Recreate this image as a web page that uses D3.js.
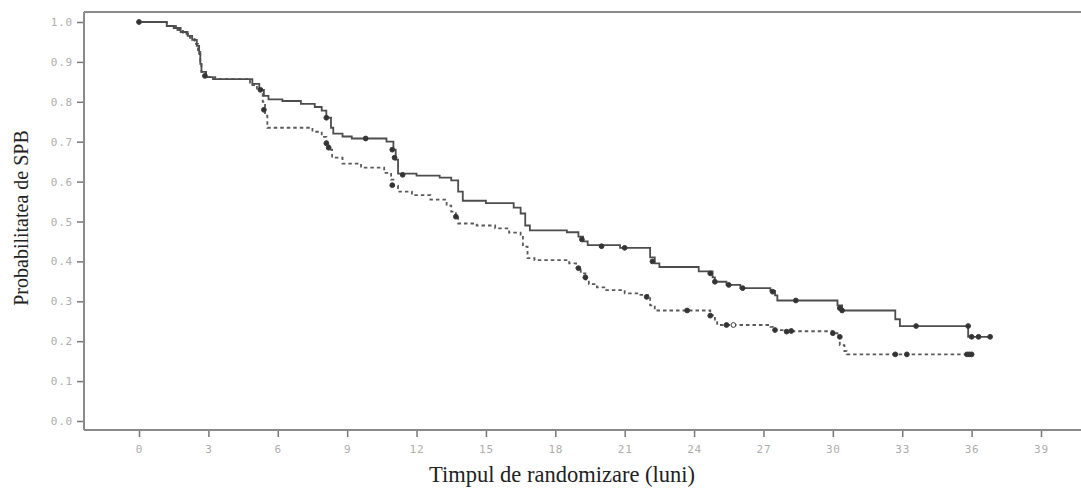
<!DOCTYPE html>
<html><head><meta charset="utf-8">
<script src="https://cdn.jsdelivr.net/npm/d3@7/dist/d3.min.js"></script>
<style>body{margin:0;background:#fff}svg{display:block}</style>
</head><body>
<svg id="c" width="1081" height="490"></svg>
<script>
// ---- data ----
const xTicks = [0,3,6,9,12,15,18,21,24,27,30,33,36,39];
const yTicks = [0.0,0.1,0.2,0.3,0.4,0.5,0.6,0.7,0.8,0.9,1.0];
const xTitle = "Timpul de randomizare (luni)";
const yTitle = "Probabilitatea de SPB";

// solid curve: step times and survival
const solidTime = [0,1.2,1.5,1.8,2.1,2.3,2.5,2.6,2.65,2.7,2.9,3.2,4.9,5.2,5.4,5.6,6.2,7.0,7.6,7.9,8.1,8.3,8.4,8.8,9.2,10.7,11.0,11.1,11.2,12.0,13.0,13.5,13.8,14.0,15.0,16.2,16.5,16.7,16.9,18.5,19.0,19.2,19.4,20.8,22.1,22.3,22.5,24.2,24.8,24.9,25.4,26.0,27.3,27.5,27.6,30.2,30.4,32.7,32.9,35.85,36.8];
const solidSurv = [1.0,0.99,0.985,0.975,0.965,0.955,0.94,0.92,0.895,0.875,0.862,0.857,0.845,0.83,0.815,0.806,0.802,0.795,0.787,0.778,0.76,0.735,0.72,0.713,0.708,0.70,0.68,0.655,0.62,0.615,0.61,0.603,0.575,0.552,0.546,0.535,0.52,0.49,0.478,0.473,0.462,0.45,0.441,0.434,0.41,0.395,0.386,0.375,0.36,0.349,0.341,0.333,0.326,0.315,0.302,0.29,0.277,0.255,0.238,0.211,0.211];
// dashed curve
const dashTime = [0,1.2,1.6,1.9,2.2,2.4,2.55,2.65,2.7,2.9,3.3,4.8,5.1,5.35,5.45,5.55,7.5,7.9,8.1,8.2,8.35,8.8,9.6,10.6,10.9,11.0,11.2,11.8,12.6,13.3,13.5,13.7,13.8,14.6,15.4,16.0,16.5,16.6,16.8,17.1,18.6,18.9,19.1,19.3,19.45,19.8,20.2,21.0,21.6,22.0,22.1,22.3,24.7,24.9,25.0,27.3,27.5,27.9,30.0,30.2,30.3,30.5,30.6,36.0];
const dashSurv = [1.0,0.99,0.98,0.97,0.96,0.945,0.925,0.9,0.875,0.862,0.857,0.842,0.83,0.80,0.765,0.735,0.725,0.712,0.70,0.68,0.66,0.645,0.635,0.622,0.605,0.59,0.575,0.566,0.555,0.54,0.525,0.51,0.495,0.49,0.483,0.472,0.465,0.437,0.408,0.403,0.395,0.385,0.37,0.355,0.343,0.335,0.328,0.32,0.316,0.31,0.29,0.277,0.265,0.25,0.2406,0.236,0.228,0.225,0.22,0.211,0.19,0.175,0.167,0.167];

// censor marks
const solidCensT = [0,2.85,5.25,8.1,9.8,10.95,11.05,11.4,19.15,20.0,21.0,22.2,24.7,24.9,25.5,26.1,27.4,28.4,30.3,30.4,33.6,35.85,36.0,36.3,36.8];
const solidCensS = [1.0,0.865,0.83,0.76,0.708,0.68,0.66,0.617,0.455,0.438,0.434,0.40,0.37,0.349,0.341,0.333,0.324,0.302,0.283,0.277,0.238,0.238,0.211,0.211,0.211];
const dashCensT = [5.4,8.1,8.2,10.95,13.7,19.0,19.3,21.95,23.7,24.7,25.4,27.5,28.0,28.2,30.0,30.3,32.7,33.2,35.8,35.9,36.0];
const dashCensS = [0.78,0.696,0.685,0.591,0.512,0.383,0.36,0.311,0.277,0.264,0.2406,0.228,0.224,0.2256,0.22,0.211,0.167,0.167,0.167,0.167,0.167];
const dashOpenT = [25.7];
const dashOpenS = [0.2406];

// ---- drawing ----
const svg = d3.select("#c");
const x = d3.scaleLinear().domain([0,39]).range([139,1041]);
const y = d3.scaleLinear().domain([0,1]).range([421,22]);
const frameLeft = 84, frameTop = 12, frameBottom = 430, frameRight = 1081;

const frameColor = "#8a8a8a";
svg.append("line").attr("x1",frameLeft).attr("x2",frameRight).attr("y1",frameTop).attr("y2",frameTop)
  .attr("stroke",frameColor).attr("stroke-width",2);

// axes
const xAxis = d3.axisBottom(x).tickValues(xTicks).tickSize(7).tickPadding(8).tickFormat(d3.format("d"));
const gx = svg.append("g").attr("transform",`translate(0,${frameBottom})`).call(xAxis);
gx.select(".domain").remove();
gx.append("line").attr("x1",frameLeft).attr("x2",frameRight).attr("stroke",frameColor).attr("stroke-width",2);

const yAxis = d3.axisLeft(y).tickValues(yTicks).tickSize(7).tickPadding(4).tickFormat(d3.format(".1f"));
const gy = svg.append("g").attr("transform",`translate(${frameLeft},0)`).call(yAxis);
gy.select(".domain").remove();
gy.append("line").attr("y1",frameTop).attr("y2",frameBottom).attr("stroke",frameColor).attr("stroke-width",2);

[gx,gy].forEach(g=>{
  g.selectAll(".tick line").attr("stroke","#777").attr("stroke-width",1.5);
  g.selectAll(".tick text").attr("fill","#adadad").style("font-family","'DejaVu Sans Mono', monospace")
    .style("font-size","11px").style("letter-spacing","0.8px");
});

// curves
const line = d3.line().x(d=>x(d[0])).y(d=>y(d[1])).curve(d3.curveStepAfter);
const solidData = d3.zip(solidTime, solidSurv);
const dashData = d3.zip(dashTime, dashSurv);
svg.append("path").datum(dashData).attr("d",line).attr("fill","none")
  .attr("stroke","#5a5a5a").attr("stroke-width",1.8).attr("stroke-dasharray","3.5,3");
svg.append("path").datum(solidData).attr("d",line).attr("fill","none")
  .attr("stroke","#4d4d4d").attr("stroke-width",1.8);

// censor marks
function dots(ts, ss, filled){
  svg.append("g").selectAll("circle").data(d3.zip(ts,ss)).join("circle")
    .attr("cx",d=>x(d[0])).attr("cy",d=>y(d[1])).attr("r",2.4)
    .attr("fill",filled?"#333":"#fff").attr("stroke","#3a3a3a").attr("stroke-width",1);
}
dots(solidCensT, solidCensS, true);
dots(dashCensT, dashCensS, true);
dots(dashOpenT, dashOpenS, false);

// titles
svg.append("text").attr("x",562).attr("y",482).attr("text-anchor","middle")
  .style("font-family","'Liberation Serif', 'Times New Roman', serif").style("font-size","22.5px").attr("fill","#222")
  .text(xTitle);
svg.append("text").attr("transform","translate(28,218) rotate(-90)").attr("text-anchor","middle")
  .style("font-family","'Liberation Serif', 'Times New Roman', serif").style("font-size","20px").attr("fill","#222")
  .text(yTitle);
</script>
</body></html>
